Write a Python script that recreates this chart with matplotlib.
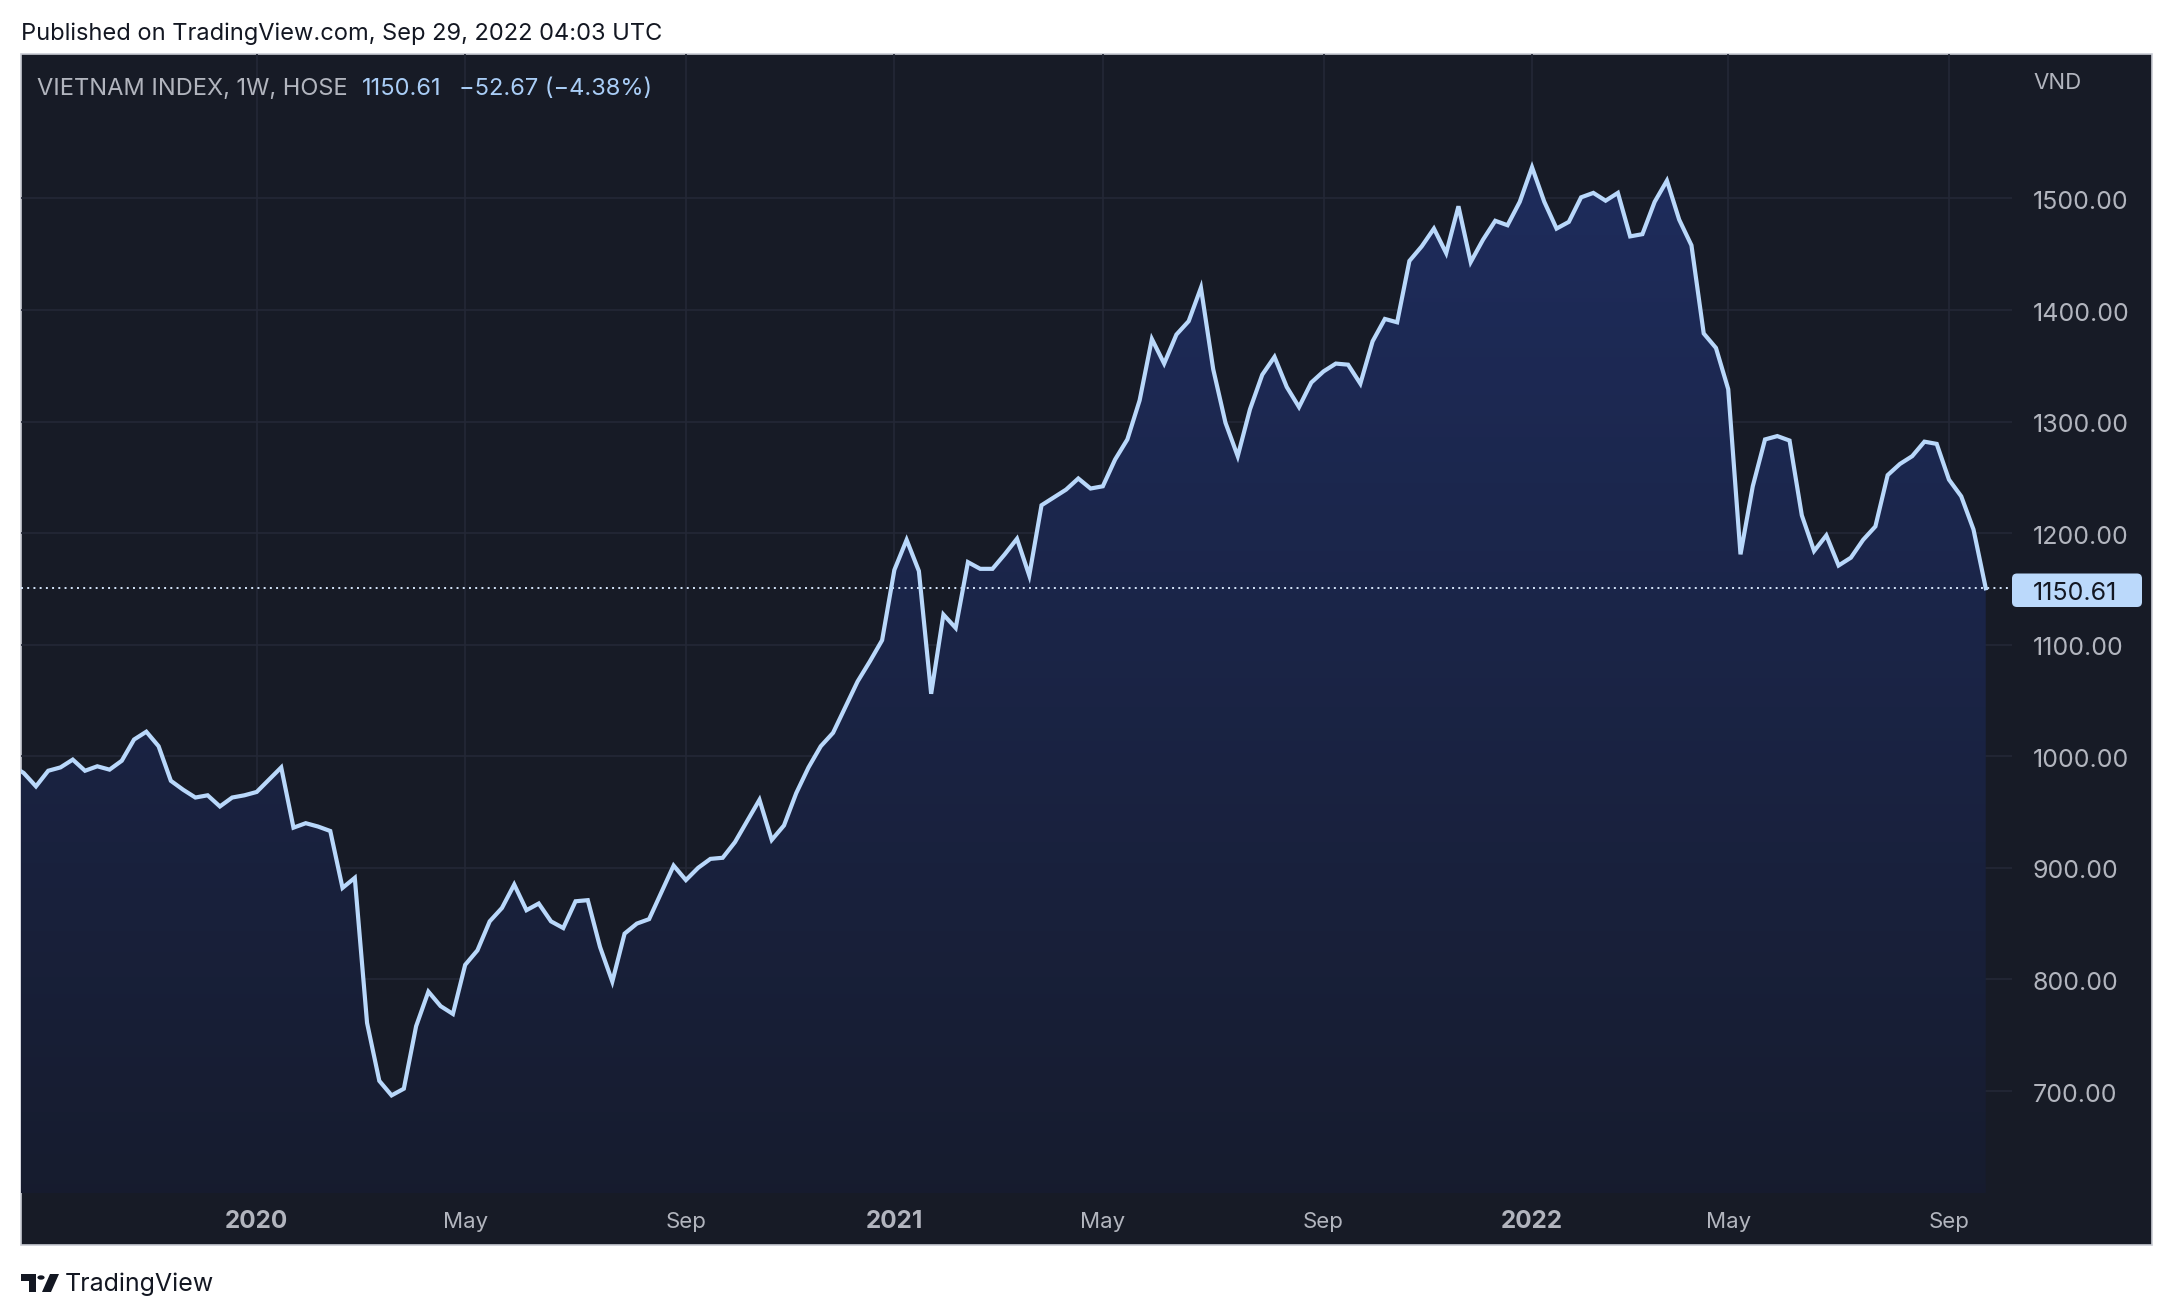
import numpy as np
import matplotlib.pyplot as plt
import matplotlib.transforms as mtransforms
from matplotlib.patches import Rectangle, FancyBboxPatch, Polygon, Circle
from matplotlib.colors import LinearSegmentedColormap

plt.rcParams['font.family'] = ['Inter', 'DejaVu Sans']

# weekly closes, VN-Index (bar 0 = first week of 2020)
bar_index = np.arange(-20, 142)
closes = [
    992, 985, 973, 987, 990, 997, 987, 991, 988, 996,
    1015, 1022, 1009, 978, 970, 963, 965, 955, 963, 965,
    968, 979, 990, 936, 940, 937, 933, 882, 891, 761,
    709, 696, 702, 758, 789, 776, 769, 813, 826, 852,
    864, 885, 862, 868, 852, 846, 870, 871, 829, 798,
    841, 850, 854, 878, 902, 889, 900, 908, 909, 923,
    942, 961, 925, 938, 967, 990, 1009, 1021, 1044, 1067,
    1085, 1104, 1167, 1194, 1166, 1056, 1127, 1115, 1174, 1168,
    1168, 1181, 1195, 1162, 1225, 1232, 1239, 1249, 1240, 1242,
    1266, 1284, 1319, 1374, 1352, 1378, 1390, 1420, 1347, 1299,
    1269, 1311, 1342, 1358, 1331, 1313, 1335, 1345, 1352, 1351,
    1334, 1372, 1392, 1389, 1444, 1457, 1473, 1451, 1493, 1443,
    1463, 1480, 1476, 1497, 1528, 1497, 1473, 1479, 1501, 1505,
    1498, 1505, 1466, 1468, 1497, 1516, 1481, 1458, 1379, 1366,
    1329, 1181, 1242, 1284, 1287, 1283, 1216, 1184, 1198, 1171,
    1178, 1194, 1206, 1252, 1262, 1269, 1282, 1280, 1248, 1233,
    1203.28, 1150.61,
]
tick_bars = [0, 17, 35, 52, 69, 87, 104, 120, 138]
tick_labels = ['2020', 'May', 'Sep', '2021', 'May', 'Sep', '2022', 'May', 'Sep']
price_ticks = [700, 800, 900, 1000, 1100, 1200, 1300, 1400, 1500]
last_close = 1150.61
change = -52.67
change_pct = -4.38

BG = '#171b26'
GRID = '#242836'
LINE = '#b9d8fb'
TXT = '#b2b5be'
BLUE = '#a9cdf6'

W, H = 2172, 1316
fig = plt.figure(figsize=(W / 100, H / 100), dpi=100)
fig.patch.set_facecolor('white')


def fx(x):
    return x / W


def fy(y):
    return 1 - y / H


# dark panel
fig.patches.append(Rectangle((fx(21), fy(1245)), fx(2152) - fx(21), fy(54) - fy(1245),
                             transform=fig.transFigure, facecolor=BG,
                             edgecolor='#c9ccd4', lw=1.2, zorder=-5))

ax = fig.add_axes([fx(21), fy(1193), fx(2012) - fx(21), fy(54) - fy(1193)])
ax.set_facecolor('none')
for s in ax.spines.values():
    s.set_visible(False)
ax.set_xticks([])
ax.set_yticks([])

x = bar_index
y = np.array(closes)
ybot = 560

for p in price_ticks:
    ax.axhline(p, color=GRID, lw=1.2, zorder=0.5)
for b in tick_bars:
    ax.axvline(b, color=GRID, lw=1.2, zorder=0.5)

# gradient area under the line
verts = np.column_stack([np.r_[x[0], x, x[-1]], np.r_[ybot, y, ybot]])
poly = Polygon(verts, closed=True, facecolor='none', edgecolor='none')
ax.add_patch(poly)
cmap = LinearSegmentedColormap.from_list('area', ['#161b2c', '#1e2c5c'])
grad = np.linspace(0, 1, 256).reshape(-1, 1)
im = ax.imshow(grad, cmap=cmap, aspect='auto', origin='lower',
               extent=[x[0], x[-1], ybot, y.max()], zorder=1)
im.set_clip_path(poly)

ax.plot(x, y, color=LINE, lw=3.0, solid_joinstyle='miter', zorder=3)
ax.axhline(last_close, color='#d6e6fa', lw=1.4, ls=(0, (1, 2.2)), zorder=2)

ax.set_xlim(-19.22, 143.14)
ax.set_ylim(608.5, 1629.5)

# price scale
ty = mtransforms.blended_transform_factory(fig.transFigure, ax.transData)
ty = mtransforms.offset_copy(ty, fig=fig, y=-3, units='points')
for p in price_ticks:
    ax.text(fx(2033), p, '%.2f' % p, transform=ty, color=TXT, fontsize=18,
            va='center', ha='left', clip_on=False)
fig.text(fx(2033), fy(83), 'VND', color=TXT, fontsize=16, va='center', ha='left')

box = FancyBboxPatch((2012 / 100, (H - 607) / 100), 1.30, 0.335,
                     boxstyle='round,pad=0,rounding_size=0.05',
                     transform=fig.dpi_scale_trans, facecolor='#bbd9fb',
                     edgecolor='none', zorder=5)
fig.patches.append(box)
fig.text(fx(2033), fy(593), '%.2f' % last_close, color='#131722',
         fontsize=18, va='center', ha='left', zorder=6)

# time scale
tx = mtransforms.blended_transform_factory(ax.transData, fig.transFigure)
for b, lab in zip(tick_bars, tick_labels):
    bold = lab.isdigit()
    ax.text(b, fy(1222), lab, transform=tx, color=TXT,
            fontsize=17.5 if bold else 16,
            fontweight='bold' if bold else 'normal', ha='center', va='center',
            clip_on=False)

# legend line
fig.text(fx(37), fy(89), 'VIETNAM INDEX, 1W, HOSE', color=TXT, fontsize=17,
         va='center', ha='left')
fig.text(fx(362), fy(89), '%.2f' % last_close, color=BLUE, fontsize=17,
         va='center', ha='left')
fig.text(fx(459), fy(89), '\u2212%.2f (\u2212%.2f%%)' % (-change, -change_pct),
         color=BLUE, fontsize=17, va='center', ha='left')

fig.text(fx(21), fy(34), 'Published on TradingView.com, Sep 29, 2022 04:03 UTC',
         color='#131722', fontsize=17, va='center', ha='left')

# TradingView logo
logo = '#131722'
fig.patches.append(Polygon([(fx(21), fy(1274)), (fx(36), fy(1274)), (fx(36), fy(1292)),
                            (fx(29), fy(1292)), (fx(29), fy(1281)), (fx(21), fy(1281))],
                           closed=True, transform=fig.transFigure, facecolor=logo))
fig.patches.append(Circle((fx(41), fy(1277.5)), 3.6 / W, transform=fig.transFigure,
                          facecolor=logo))
fig.patches.append(Polygon([(fx(50), fy(1274)), (fx(59), fy(1274)), (fx(51), fy(1292)),
                            (fx(42), fy(1292))],
                           closed=True, transform=fig.transFigure, facecolor=logo))
fig.text(fx(65), fy(1284), 'TradingView', color=logo, fontsize=18, va='center',
         ha='left')

fig.savefig('out.png', dpi=100, facecolor=fig.get_facecolor())
